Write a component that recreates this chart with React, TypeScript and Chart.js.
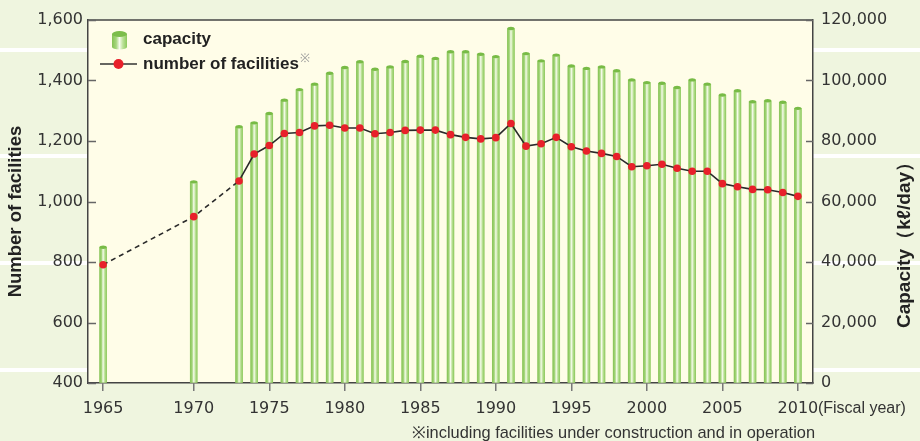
import React, { useEffect, useRef } from "react";
import { Chart, registerables } from "chart.js";

Chart.register(...registerables);

// ---- data ----
const fiscalYears = [
  1965, 1970, 1973, 1974, 1975, 1976, 1977, 1978, 1979, 1980, 1981, 1982, 1983, 1984,
  1985, 1986, 1987, 1988, 1989, 1990, 1991, 1992, 1993, 1994, 1995, 1996, 1997, 1998,
  1999, 2000, 2001, 2002, 2003, 2004, 2005, 2006, 2007, 2008, 2009, 2010,
];

// capacity (kl/day), right axis
const capacity = [
  44900, 66500, 84700, 86000, 89100, 93500, 97000, 98800, 102400, 104300, 106200, 103700,
  104500, 106300, 108000, 107300, 109500, 109500, 108700, 107900, 117200, 108900, 106500,
  108400, 104800, 104000, 104500, 103200, 100200, 99300, 99100, 97700, 100200, 98800,
  95200, 96600, 93000, 93300, 92800, 90800,
];

// number of facilities, left axis
const facilities = [
  791, 950, 1068, 1157, 1185, 1225, 1228, 1250, 1252, 1243, 1243, 1224, 1228, 1235,
  1236, 1236, 1221, 1212, 1207, 1211, 1258, 1183, 1191, 1212, 1181, 1167, 1159, 1149,
  1115, 1118, 1123, 1110, 1100, 1100, 1059, 1049, 1040, 1039, 1030, 1017,
];

// category slots of the x axis (blank slots are spacing)
const axisLabels = [
  "", "1965", "", "", "", "", "", "1970", "1971", "1972", "1973", "1974", "1975", "1976",
  "1977", "1978", "1979", "1980", "1981", "1982", "1983", "1984", "1985", "1986", "1987",
  "1988", "1989", "1990", "1991", "1992", "1993", "1994", "1995", "1996", "1997", "1998",
  "1999", "2000", "2001", "2002", "2003", "2004", "2005", "2006", "2007", "2008", "2009",
  "2010", "",
];

const leftTicks = { min: 400, max: 1600, step: 200 };
const rightTicks = { min: 0, max: 120000, step: 20000 };

const capacityLabel = "capacity";
const facilitiesLabel = "number of facilities";
const footMark = "※";
const leftTitle = "Number of facilities";
const rightTitle = "Capacity（kℓ/day）";
const xUnit = "(Fiscal year)";
const footnote = "※including facilities under construction and in operation";

const NUM_FONT = "'DejaVu Sans', sans-serif";
const TXT_FONT = "'Liberation Sans', Arial, sans-serif";

function valueFor(list: number[], label: string): number | null {
  if (!label) return null;
  const i = fiscalYears.indexOf(Number(label));
  return i >= 0 ? list[i] : null;
}

function barGradient(ctx: CanvasRenderingContext2D, l: number, w: number) {
  const g = ctx.createLinearGradient(l, 0, l + w, 0);
  g.addColorStop(0, "#84c253");
  g.addColorStop(0.28, "#a6d67d");
  g.addColorStop(0.5, "#f6fbec");
  g.addColorStop(0.72, "#bde299");
  g.addColorStop(1, "#8cc95c");
  return g;
}

const decorPlugin = {
  id: "decor",
  beforeDraw(chart: any) {
    const { ctx, width, height, chartArea: a } = chart;
    ctx.save();
    ctx.fillStyle = "#eff5df";
    ctx.fillRect(0, 0, width, height);
    ctx.strokeStyle = "#ffffff";
    ctx.lineWidth = 4;
    for (const f of [0.1134, 0.3537, 0.5964, 0.839]) {
      const yy = Math.round(f * height);
      ctx.beginPath();
      ctx.moveTo(0, yy);
      ctx.lineTo(width, yy);
      ctx.stroke();
    }
    ctx.fillStyle = "#fffde8";
    ctx.fillRect(a.left, a.top, a.right - a.left, a.bottom - a.top);
    ctx.restore();
  },
  afterDatasetDraw(chart: any, args: any) {
    const meta = args.meta;
    if (meta.type !== "bar") return;
    const ctx: CanvasRenderingContext2D = chart.ctx;
    const data = chart.data.datasets[args.index].data;
    ctx.save();
    meta.data.forEach((el: any, i: number) => {
      if (data[i] == null) return;
      const { x, y, base, width } = el.getProps(["x", "y", "base", "width"], true);
      const l = x - width / 2;
      ctx.fillStyle = barGradient(ctx, l, width);
      ctx.fillRect(l, y, width, base - y);
      ctx.beginPath();
      ctx.ellipse(x, y, width / 2, 1.7, 0, 0, Math.PI * 2);
      ctx.fillStyle = "#78bb46";
      ctx.fill();
    });
    ctx.restore();
  },
  afterDraw(chart: any) {
    const { ctx, chartArea: a, scales } = chart;
    ctx.save();
    // top border
    ctx.strokeStyle = "#444";
    ctx.lineWidth = 1.5;
    ctx.beginPath();
    ctx.moveTo(a.left, a.top);
    ctx.lineTo(a.right, a.top);
    ctx.stroke();
    // inward ticks on y axes
    ctx.strokeStyle = "#666";
    ctx.lineWidth = 1.5;
    scales.y.ticks.forEach((t: any) => {
      const py = Math.round(scales.y.getPixelForValue(t.value)) + 0.5;
      ctx.beginPath();
      ctx.moveTo(a.left, py);
      ctx.lineTo(a.left + 8, py);
      ctx.stroke();
    });
    scales.y2.ticks.forEach((t: any) => {
      const py = Math.round(scales.y2.getPixelForValue(t.value)) + 0.5;
      ctx.beginPath();
      ctx.moveTo(a.right - 7, py);
      ctx.lineTo(a.right, py);
      ctx.stroke();
    });

    // legend
    const lx = a.left + 24;
    const ly = a.top + 19;
    const cw = 15;
    const cl = lx;
    ctx.fillStyle = barGradient(ctx, cl, cw);
    ctx.fillRect(cl, ly - 5, cw, 13);
    ctx.beginPath();
    ctx.ellipse(cl + cw / 2, ly + 8, cw / 2, 2.5, 0, 0, Math.PI);
    ctx.fill();
    ctx.beginPath();
    ctx.ellipse(cl + cw / 2, ly - 5, cw / 2, 3, 0, 0, Math.PI * 2);
    ctx.fillStyle = "#7cbd4a";
    ctx.fill();
    ctx.fillStyle = "#222";
    ctx.font = `bold 17px ${TXT_FONT}`;
    ctx.textBaseline = "middle";
    ctx.textAlign = "left";
    ctx.fillText(chart.data.datasets[1].label, a.left + 55, ly);
    const ly2 = ly + 25;
    ctx.strokeStyle = "#333";
    ctx.lineWidth = 1.5;
    ctx.beginPath();
    ctx.moveTo(a.left + 12, ly2);
    ctx.lineTo(a.left + 49, ly2);
    ctx.stroke();
    ctx.beginPath();
    ctx.arc(a.left + 30.5, ly2, 5, 0, Math.PI * 2);
    ctx.fillStyle = "#e8202a";
    ctx.fill();
    ctx.fillStyle = "#222";
    const t2 = chart.data.datasets[0].label;
    ctx.fillText(t2, a.left + 55, ly2);
    const w2 = ctx.measureText(t2).width;
    ctx.font = `12px ${TXT_FONT}`;
    ctx.fillStyle = "#999";
    ctx.fillText(footMark, a.left + 55 + w2 + 1, ly2 - 5);

    // axis titles
    ctx.fillStyle = "#222";
    ctx.textAlign = "center";
    ctx.font = `bold 18.5px ${TXT_FONT}`;
    ctx.save();
    ctx.translate(16, (a.top + a.bottom) / 2 + 10);
    ctx.rotate(-Math.PI / 2);
    ctx.fillText(leftTitle, 0, 0);
    ctx.restore();
    ctx.font = `bold 19px ${TXT_FONT}`;
    ctx.save();
    ctx.translate(905, (a.top + a.bottom) / 2 + 39);
    ctx.rotate(-Math.PI / 2);
    ctx.fillText(rightTitle, 0, 0);
    ctx.restore();

    // x unit
    const lastIdx = axisLabels.lastIndexOf("2010");
    const xx = scales.x.getPixelForTick(lastIdx);
    ctx.font = `16px ${TXT_FONT}`;
    ctx.fillStyle = "#333";
    ctx.textAlign = "left";
    ctx.fillText(xUnit, xx + 20, 409);

    // footnote
    ctx.font = `16.4px ${TXT_FONT}`;
    ctx.textAlign = "right";
    ctx.textBaseline = "alphabetic";
    ctx.fillText(footnote, 815, 438);
    ctx.restore();
  },
};

export default function App() {
  const ref = useRef<HTMLCanvasElement | null>(null);

  useEffect(() => {
    document.body.style.margin = "0";
    const canvas = ref.current;
    if (!canvas) return;

    const barData = axisLabels.map((l) => valueFor(capacity, l));
    const lineData = axisLabels.map((l) => valueFor(facilities, l));

    const chart = new Chart(canvas, {
      type: "bar",
      data: {
        labels: axisLabels,
        datasets: [
          {
            type: "line",
            label: facilitiesLabel,
            data: lineData,
            yAxisID: "y",
            borderColor: "#2a2a2a",
            borderWidth: 1.6,
            pointRadius: 3.8,
            pointBackgroundColor: "#e8202a",
            pointBorderWidth: 0,
            pointBorderColor: "#e8202a",
            spanGaps: true,
            tension: 0,
            order: 0,
            segment: {
              borderDash: (c: any) =>
                Number(axisLabels[c.p1DataIndex]) <= 1973 ? [5, 4] : undefined,
            },
          } as any,
          {
            type: "bar",
            label: capacityLabel,
            data: barData,
            yAxisID: "y2",
            backgroundColor: "#9fd172",
            barThickness: 7,
            order: 1,
          },
        ],
      },
      options: {
        animation: false,
        responsive: true,
        maintainAspectRatio: false,
        layout: { padding: { top: 20, left: 0, right: 0, bottom: 0 } },
        plugins: { legend: { display: false }, tooltip: { enabled: false } },
        scales: {
          x: {
            type: "category",
            offset: false,
            grid: {
              offset: false,
              drawOnChartArea: false,
              drawTicks: true,
              tickLength: 8,
              lineWidth: 1.5,
              color: (c: any) => {
                const l = axisLabels[c.index];
                return l && Number(l) % 5 === 0 ? "#777" : "rgba(0,0,0,0)";
              },
            },
            border: { color: "#444", width: 1.5 },
            ticks: {
              autoSkip: false,
              maxRotation: 0,
              minRotation: 0,
              padding: 8,
              color: "#333",
              font: { family: NUM_FONT, size: 16 },
              callback: (_v: any, i: number) => {
                const l = axisLabels[i];
                return l && Number(l) % 5 === 0 ? l : "";
              },
            },
            afterFit: (s: any) => {
              s.height = 58;
            },
          },
          y: {
            position: "left",
            min: leftTicks.min,
            max: leftTicks.max,
            grid: { drawOnChartArea: false, drawTicks: false },
            border: { color: "#444", width: 1.5 },
            ticks: {
              stepSize: leftTicks.step,
              padding: 5,
              color: "#333",
              font: { family: NUM_FONT, size: 16 },
            },
            afterFit: (s: any) => {
              s.width = 88;
            },
          },
          y2: {
            position: "right",
            min: rightTicks.min,
            max: rightTicks.max,
            grid: { drawOnChartArea: false, drawTicks: false },
            border: { color: "#444", width: 1.5 },
            ticks: {
              stepSize: rightTicks.step,
              padding: 8,
              color: "#333",
              font: { family: NUM_FONT, size: 16 },
            },
            afterFit: (s: any) => {
              s.width = 107;
            },
          },
        },
      },
      plugins: [decorPlugin],
    });

    return () => chart.destroy();
  }, []);

  return (
    <div style={{ position: "relative", width: 920, height: 441 }}>
      <canvas ref={ref} />
    </div>
  );
}
